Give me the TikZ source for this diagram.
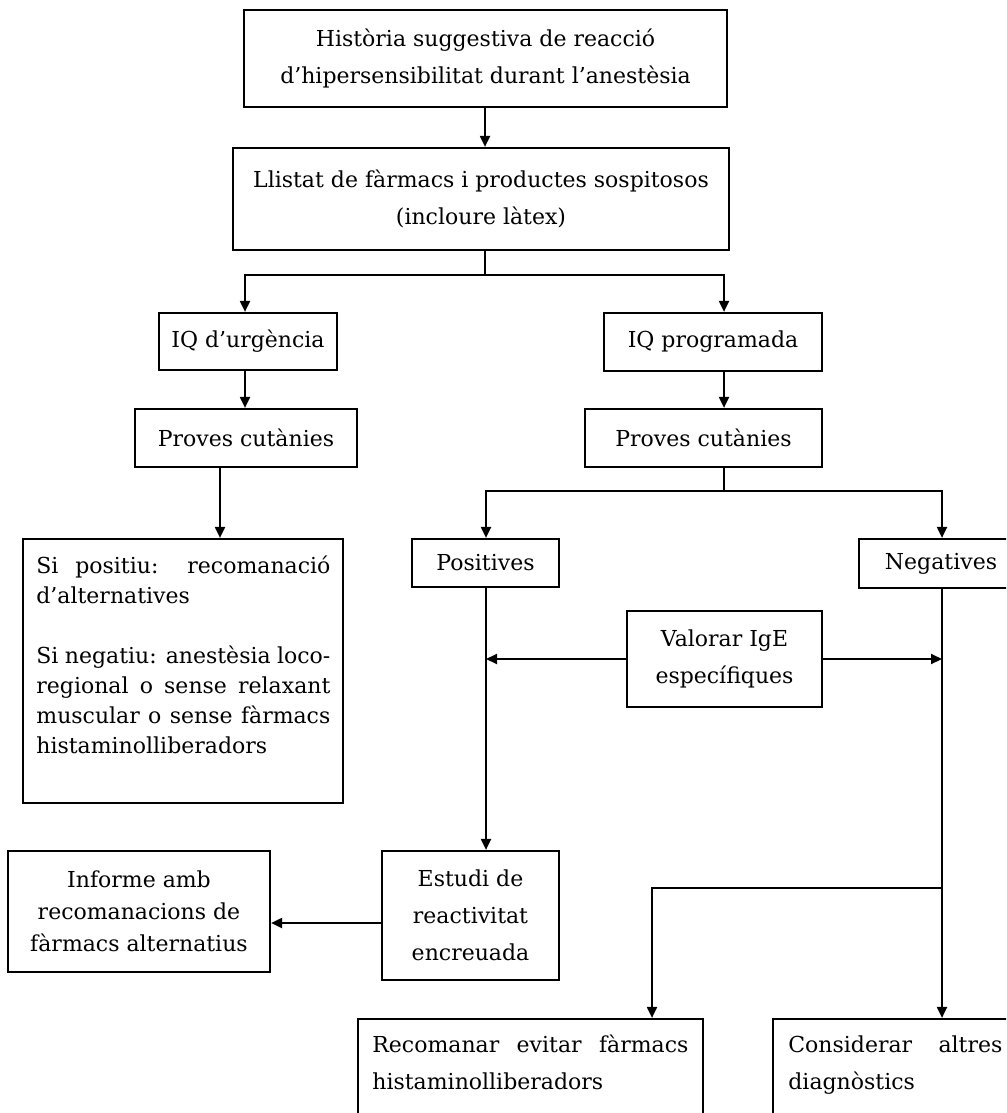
\documentclass[tikz,border=0pt]{standalone}
\usepackage{fontspec}
\setmainfont{DejaVu Serif}
\usetikzlibrary{arrows.meta}

\begin{document}
\begin{tikzpicture}[
    x = 0.5pt,
    y = -0.5pt,
    box/.style = {draw, line width=1.1pt, inner sep=0pt, align=center,
      font=\fontsize{11}{18.5}\selectfont},
    para/.style = {inner sep=0pt, align=justify, anchor=base west,
      font=\fontsize{11}{15}\selectfont},
    link/.style = {line width=1pt},
    arr/.style = {link, -{Triangle[length=5.5pt, width=5pt]}},
    ]
    % page
    \fill[white] (0,0) rectangle (1006,1113);
    \clip (0,0) rectangle (1006,1113);
    % top blocks
    \node[box, minimum width=241.5pt, minimum height=48.5pt] (hist) at (485.5,58.5)
    {Història suggestiva de reacció\\d’hipersensibilitat durant l’anestèsia};
    \node[box, minimum width=248pt, minimum height=51pt] (llist) at (481,199)
    {Llistat de fàrmacs i productes sospitosos\\(incloure làtex)};
    % surgery type
    \node[box, minimum width=89pt, minimum height=28.5pt] (urg) at (248,341.5) {IQ d’urgència};
    \node[box, minimum width=109pt, minimum height=29pt] (prog) at (713,342) {IQ programada};
    \node[box, minimum width=111pt, minimum height=29pt] (provA) at (246,438) {Proves cutànies};
    \node[box, minimum width=118.5pt, minimum height=29pt] (provB) at (703.5,438) {Proves cutànies};
    % urgent branch
    \node[box, minimum width=160pt, minimum height=132pt] (sipos) at (183,671) {};
    \node[para, text width=147pt] (sipostxt) at (36,573)
    {Si positiu: recomanació\linebreak d’alternatives\par\vskip15pt
      Si negatiu: anestèsia loco-\linebreak regional o sense relaxant\linebreak
      muscular o sense fàrmacs\linebreak histaminolliberadors};
    % planned branch
    \node[box, minimum width=73.5pt, minimum height=24pt] (posit) at (485.5,563) {Positives};
    \node[box, minimum width=82pt, minimum height=24.5pt] (negat) at (941,563.5) {Negatives};
    \node[box, minimum width=97.5pt, minimum height=48pt] (valor) at (724.5,659)
    {Valorar IgE\\específiques};
    \node[box, minimum width=88.5pt, minimum height=64.5pt] (estudi) at (470.5,915.5)
    {Estudi de\\reactivitat\\encreuada};
    \node[box, minimum width=131pt, minimum height=60.5pt,
      font=\fontsize{11}{16}\selectfont] (informe) at (139,911.5)
    {Informe amb\\recomanacions de\\fàrmacs alternatius};
    \node[box, minimum width=172.5pt, minimum height=60.5pt] (recom) at (530.5,1079.5) {};
    \node[para, text width=158pt, font=\fontsize{11}{18.5}\selectfont] (recomtxt) at (372,1052)
    {Recomanar evitar fàrmacs\linebreak histaminolliberadors};
    \node[box, minimum width=126pt, minimum height=60.5pt] (consid) at (899,1079.5) {};
    \node[para, text width=107pt, font=\fontsize{11}{18.5}\selectfont] (considtxt) at (788,1052)
    {Considerar altres\linebreak diagnòstics};
    % columns and joints
    \coordinate (colM) at (485,0);
    \coordinate (colA) at (245,0);
    \coordinate (colB) at (724,0);
    \coordinate (colC) at (220,0);
    \coordinate (colP) at (486,0);
    \coordinate (colN) at (942,0);
    \coordinate (colR) at (652,0);
    \coordinate (rowE) at (0,923);
    \coordinate (split1) at (485,275);
    \coordinate (split2) at (724,491);
    \coordinate (split3) at (942,888);
    % arrows
    \draw[arr] (hist.south -| colM) -- (llist.north -| colM);
    \draw[link] (llist.south -| colM) -- (split1);
    \foreach \n/\c in {urg/colA, prog/colB}
    \draw[arr] (split1) -| (\n.north -| \c);
    \draw[arr] (urg.south -| colA) -- (provA.north -| colA);
    \draw[arr] (prog.south -| colB) -- (provB.north -| colB);
    \draw[arr] (provA.south -| colC) -- (sipos.north -| colC);
    \draw[link] (provB.south -| colB) -- (split2);
    \foreach \n/\c in {posit/colP, negat/colN}
    \draw[arr] (split2) -| (\n.north -| \c);
    \draw[arr] (posit.south -| colP) -- (estudi.north -| colP);
    \draw[arr] (valor.west) -- (valor.west -| colP);
    \draw[arr] (valor.east) -- (valor.east -| colN);
    \draw[arr] (estudi.west |- rowE) -- (informe.east |- rowE);
    \draw[arr] (negat.south -| colN) -- (consid.north -| colN);
    \draw[arr] (split3) -| (recom.north -| colR);
\end{tikzpicture}
\end{document}
